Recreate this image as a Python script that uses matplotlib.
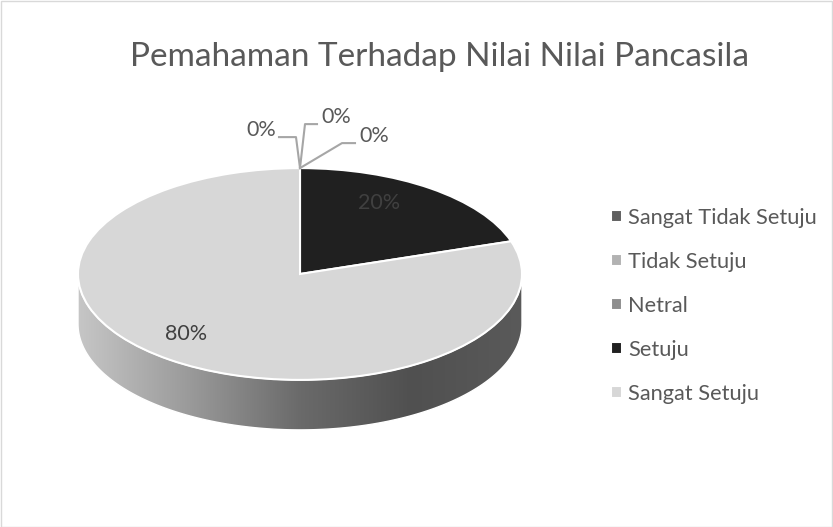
import numpy as np
import matplotlib
matplotlib.use("Agg")
import matplotlib.pyplot as plt
from matplotlib.patches import Polygon, Rectangle
from matplotlib.transforms import Affine2D

# data
categories = ["Sangat Tidak Setuju", "Tidak Setuju", "Netral", "Setuju", "Sangat Setuju"]
values = [0, 0, 0, 20, 80]
colors = ["#5f5f5f", "#b2b2b2", "#8e8e8e", "#202020", "#d7d7d7"]
title = "Pemahaman Terhadap Nilai Nilai Pancasila"

plt.rcParams['font.family'] = ['Lato', 'DejaVu Sans']

W, H = 833, 527
fig = plt.figure(figsize=(W / 100, H / 100), dpi=100)
ax = fig.add_axes([0, 0, 1, 1])

# pie geometry (pixels)
cx, cy = 300, 274          # center of top ellipse
S = 222                    # radius in px = 1 data unit
tilt = 0.477               # vertical squash
depth = 50 / S             # thickness of the disc

# top face
wedges, _ = ax.pie(values, colors=colors, startangle=90, counterclock=False,
                   radius=1, wedgeprops=dict(edgecolor="white", linewidth=1.5))
squash = Affine2D().scale(1, tilt)
for w in wedges:
    w.set_transform(squash + ax.transData)
    w.set_zorder(3)

ax.set_xlim(-cx / S, (W - cx) / S)
ax.set_ylim(-(H - cy) / S, cy / S)
ax.set_aspect("auto")
ax.axis("off")

# side of the disc: front half, shaded left->right
total = sum(values)
start = 90.0
for v in values:
    a0 = start
    a1 = start - 360.0 * v / total
    start = a1
    if v == 0:
        continue
    # visible front angles: 180..360
    segs = []
    for off in (0, -360, 360):
        l = max(a1 + off, 180)
        h = min(a0 + off, 360)
        if h > l:
            segs.append((l, h))
    for l, h in segs:
        th = np.radians(np.linspace(l, h, 200))
        xs = np.cos(th)
        ys = np.sin(th) * tilt
        pts = np.concatenate([np.column_stack([xs, ys]),
                              np.column_stack([xs[::-1], ys[::-1] - depth])])
        poly = Polygon(pts, closed=True, facecolor="none", edgecolor="white",
                       linewidth=1.0, zorder=2)
        ax.add_patch(poly)
        grad = np.linspace(0, 1, 256).reshape(1, -1)
        cmap = matplotlib.colors.LinearSegmentedColormap.from_list(
            "side", ["#c6c6c6", "#9a9a9a", "#6a6a6a", "#505050", "#5a5a5a"])
        im = ax.imshow(grad, cmap=cmap, extent=[-1, 1, -tilt - depth, 0],
                       aspect="auto", zorder=1, interpolation="bilinear")
        im.set_clip_path(poly)

# percentage labels inside slices
start = 90.0
for v in values:
    a1 = start - 360.0 * v / total
    mid = np.radians((start + a1) / 2)
    start = a1
    if v == 0:
        continue
    r = 0.74
    dy = 0.026 + 0.009 * np.sign(np.sin(mid))
    ax.text(r * np.cos(mid) - 0.08, r * np.sin(mid) * tilt + dy,
            f"{v}%", ha="center", va="center", fontsize=15.5, color="#404040", zorder=5)

# 0% labels with leader lines (offsets in px from the apex)
apex = (0.0, tilt)
leaders = [((-4, 31), (-21, 31), "right"),
           ((5, 44), (17, 44), "left"),
           ((42, 25), (55, 25), "left")]
zero_vals = [v for v in values if v == 0]
for v, (p1, p2, side) in zip(zero_vals, leaders):
    xs = [apex[0], apex[0] + p1[0] / S, apex[0] + p2[0] / S]
    ys = [apex[1], apex[1] + p1[1] / S, apex[1] + p2[1] / S]
    ax.plot(xs, ys, color="#a6a6a6", linewidth=1.5, zorder=4)
    tx = xs[-1] + (-3 / S if side == "right" else 4 / S)
    ax.text(tx, ys[-1] + 7 / S, f"{v}%", ha=side, va="center",
            fontsize=15.5, color="#595959", zorder=5)

# title
fig.text(440 / W, 1 - 57 / H, title, ha="center", va="center",
         fontsize=24, color="#595959")

# legend
leg = fig.legend(wedges, categories, loc="upper left",
                 bbox_to_anchor=(591 / W, 1 - 188 / H), frameon=False,
                 handlelength=0.5, handleheight=0.5, handletextpad=0.3,
                 labelspacing=1.1, fontsize=15.7, labelcolor="#595959")

# chart border
fig.patches.append(Rectangle((0.5 / W, 0.5 / H), 1 - 1.5 / W, 1 - 1.5 / H,
                             transform=fig.transFigure, fill=False,
                             edgecolor="#d9d9d9", linewidth=1))

fig.savefig("out.png", dpi=100)
